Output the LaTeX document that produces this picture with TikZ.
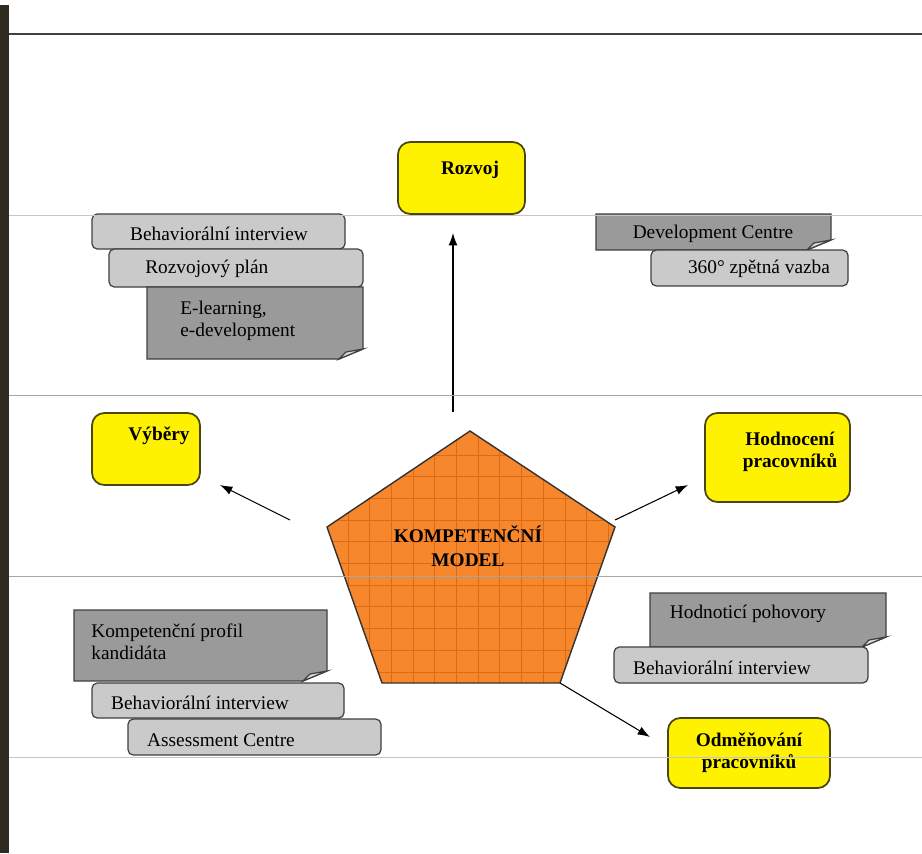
\documentclass[tikz,border=0pt]{standalone}
\usepackage{fontspec}
\setmainfont{Liberation Serif}
\usetikzlibrary{arrows.meta,positioning}
\definecolor{barcol}{HTML}{2E2B20}
\definecolor{goalline}{HTML}{4A4612}
\definecolor{softgray}{HTML}{CACACA}
\definecolor{notegray}{HTML}{9A9A9A}
\definecolor{kmorange}{HTML}{F7872C}
\definecolor{kmgrid}{HTML}{DD6A14}
% box with a folded corner: x1 y1 x2 y2
\newcommand{\foldnote}[4]{%
  \draw[notebox] (#1,#2) -- (#3,#2) -- (#3,#4-10) -- (#3-24,#4) -- (#1,#4) -- cycle;
  \draw[notebox, fill=gray!25] (#3-24,#4) -- (#3-17,#4-7) -- (#3,#4-10) -- cycle;}

\begin{document}
\begin{tikzpicture}[x=0.02cm, y=-0.02cm, font=\fontsize{11}{12.5}\selectfont,
    goal/.style={draw=goalline, fill=yellow, line width=1pt, rounded corners=7pt},
    soft/.style={draw=black!75, fill=softgray, line width=0.7pt, rounded corners=3pt},
    notebox/.style={draw=black!75, fill=notegray, line width=0.7pt},
    sep/.style={draw=gray!45, line width=0.5pt},
    arr/.style={-{Latex[length=7pt,width=5pt]}, line width=0.6pt},
    bold/.style={font=\fontsize{11}{12.5}\selectfont\bfseries, align=center, inner sep=0pt},
    lbl/.style={inner sep=0pt, align=left}]

    \useasboundingbox (0,0) rectangle (922,853);
    \fill[white] (0,0) rectangle (922,853);
    \fill[barcol] (0,5) rectangle (9,853);
    \draw[draw=black!75, line width=1pt] (9,34) -- (922,34);

    % Rozvoj
    \draw[goal] (398,142) rectangle (525,214);
    \node[bold] (rozvoj) at (470,170) {Rozvoj};
    \draw[soft] (92,214) rectangle (345,249);
    \node[lbl] (bi1) at (219,234) {Behaviorální interview};
    \draw[soft] (109,249) rectangle (363,287);
    \node[lbl, anchor=west] (plan) at (145,269) {Rozvojový plán};
    \foldnote{147}{287}{363}{359}
    \node[lbl, anchor=north west] (elearn) at (180,301) {E-learning,\\e-development};
    \foldnote{596}{214}{831}{250}
    \node[lbl] (dc) at (713,234) {Development Centre};
    \draw[soft] (651,250) rectangle (848,286);
    \node[lbl] (zv) at (759,269) {360° zpětná vazba};

    % Vybery a hodnoceni
    \draw[goal] (92,413) rectangle (200,485);
    \node[bold] (vybery) at (159,436) {Výběry};
    \draw[goal] (705,413) rectangle (850,502);
    \node[bold] (hodn) at (790,452) {Hodnocení\\pracovníků};

    % model
    \coordinate (pT) at (470,431);
    \coordinate (pR) at (615,527);
    \coordinate (pBR) at (560,683);
    \coordinate (pBL) at (382,683);
    \coordinate (pL) at (327,527);
    \fill[kmorange] (pT) -- (pR) -- (pBR) -- (pBL) -- (pL) -- cycle;
    \begin{scope}
        \clip (pT) -- (pR) -- (pBR) -- (pBL) -- (pL) -- cycle;
        \foreach \k in {1,...,13}
            \draw[kmgrid, line width=0.5pt] ({326.3+21.7*\k},425) -- ++(0,265);
        \foreach \k in {1,...,11}
            \draw[kmgrid, line width=0.5pt] (320,{433.3+21.7*\k}) -- ++(300,0);
    \end{scope}
    \draw[draw=black!80, line width=0.8pt] (pT) -- (pR) -- (pBR) -- (pBL) -- (pL) -- cycle;
    \node[bold, font=\fontsize{11}{13.5}\selectfont\bfseries] (km) at (468,546) {KOMPETENČNÍ\\MODEL};

    % Odmenovani
    \foldnote{74}{610}{327}{681}
    \node[lbl, anchor=north west] (profil) at (91,624) {Kompetenční profil\\kandidáta};
    \draw[soft] (92,683) rectangle (344,718);
    \node[lbl] (bi2) at (200,703) {Behaviorální interview};
    \draw[soft] (128,719) rectangle (381,755);
    \node[lbl] (ac) at (221,740) {Assessment Centre};
    \foldnote{650}{593}{886}{647}
    \node[lbl] (hp) at (748,614) {Hodnoticí pohovory};
    \draw[soft] (614,647) rectangle (868,683);
    \node[lbl] (bi3) at (722,668) {Behaviorální interview};
    \draw[goal] (668,718) rectangle (830,788);
    \node[bold] (odm) at (749,753) {Odměňování\\pracovníků};

    % arrows
    \coordinate (upS) at (453,412);
    \coordinate (upE) at (453,233);
    \coordinate (leS) at (290,520);
    \coordinate (leE) at (220,485);
    \coordinate (riS) at (615,520);
    \coordinate (riE) at (688,485);
    \coordinate (doE) at (650,737);
    \draw[arr] (upS) -- (upE);
    \draw[arr] (leS) -- (leE);
    \draw[arr] (riS) -- (riE);
    \draw[arr] (pBR) -- (doE);

    % separators
    \foreach \yy in {215,757}
        \draw[sep] (9,\yy) -- (922,\yy);
    \foreach \yy in {395,576}
        \draw[sep, draw=gray!70] (9,\yy) -- (922,\yy);
\end{tikzpicture}
\end{document}
